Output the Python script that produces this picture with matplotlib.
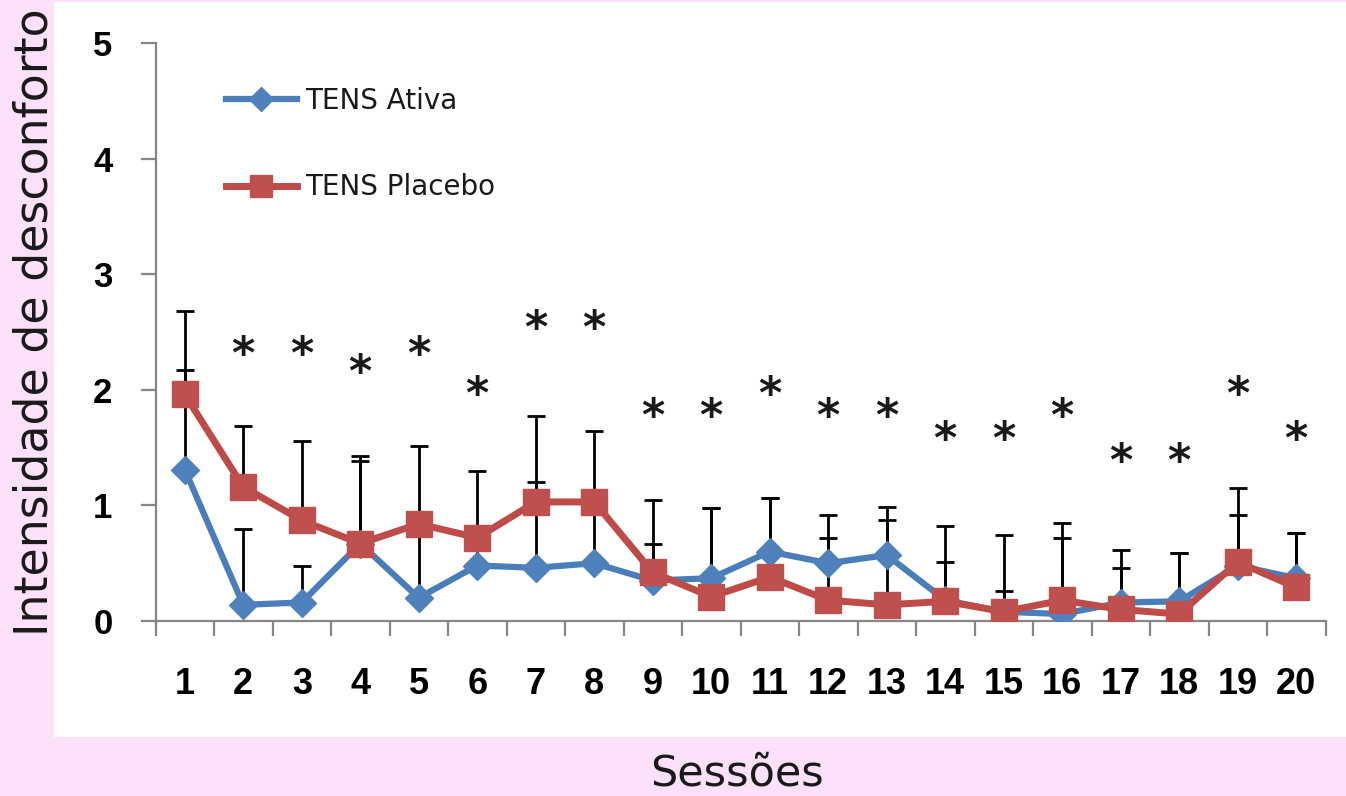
import numpy as np
import matplotlib
matplotlib.use("Agg")
import matplotlib.pyplot as plt
from matplotlib import font_manager as fm
from matplotlib.patches import Rectangle

# ---------------- data ----------------
sessions = list(range(1, 21))
session_labels = [str(s) for s in sessions]
ativa = [1.31, 0.14, 0.16, 0.67, 0.20, 0.48, 0.46, 0.50, 0.35, 0.37,
         0.60, 0.50, 0.57, 0.18, 0.08, 0.06, 0.16, 0.17, 0.48, 0.37]
placebo = [1.96, 1.16, 0.87, 0.67, 0.84, 0.72, 1.03, 1.03, 0.42, 0.21,
           0.38, 0.18, 0.14, 0.17, 0.08, 0.18, 0.10, 0.06, 0.51, 0.29]
err_ativa = [0.86, 0.66, 0.32, 0.71, 0.66, 0.26, 0.74, 0.55, 0.32, 0.61,
             0.46, 0.42, 0.42, 0.33, 0.18, 0.66, 0.30, 0.42, 0.44, 0.39]
err_placebo = [0.72, 0.53, 0.69, 0.76, 0.67, 0.58, 0.74, 0.61, 0.63, 0.77,
               0.68, 0.54, 0.73, 0.65, 0.66, 0.67, 0.51, 0.53, 0.64, 0.47]
star_sessions = list(range(2, 21))
star_heights = [2.37, 2.37, 2.21, 2.37, 2.02, 2.59, 2.59, 1.83, 1.83, 2.02,
                1.83, 1.83, 1.63, 1.63, 1.83, 1.44, 1.44, 2.02, 1.63]
y_ticks = [0, 1, 2, 3, 4, 5]
series_names = ["TENS Ativa", "TENS Placebo"]
y_title = "Intensidade de desconforto"
x_title = "Sessões"

# ---------------- fonts ----------------
def has_font(name):
    try:
        fm.findfont(fm.FontProperties(family=name), fallback_to_default=False)
        return True
    except Exception:
        return False

narrow = has_font("Liberation Sans Narrow")
tick_family = "Liberation Sans" if has_font("Liberation Sans") else "DejaVu Sans"
xtick_family = "Liberation Sans Narrow" if narrow else tick_family
xtick_size = 30 if narrow else 26

W, H = 1346, 796
fig = plt.figure(figsize=(W / 100, H / 100), dpi=100)
fig.patch.set_facecolor("#FDE0FA")
fig.add_artist(Rectangle((54 / W, 1 - 737 / H), 1 - 54 / W, (737 - 2) / H,
                         transform=fig.transFigure, facecolor="white",
                         edgecolor="none", zorder=-5))

ax = fig.add_axes([155.5 / W, 1 - 621 / H, (1325.5 - 155.5) / W, (621 - 43) / H])
ax.patch.set_visible(False)

blue_line, blue_mk = "#4A7EBB", "#4F81BD"
red_line, red_mk = "#BE4B48", "#C0504D"
gray = "#868686"

zeros = np.zeros(len(sessions))
ax.errorbar(sessions, ativa, yerr=[zeros, err_ativa], fmt="none", ecolor="black",
            elinewidth=2.0, capsize=6.5, capthick=2.0, zorder=2)
ax.errorbar(sessions, placebo, yerr=[zeros, err_placebo], fmt="none", ecolor="black",
            elinewidth=2.0, capsize=6.5, capthick=2.0, zorder=2.1)

ax.plot(sessions, ativa, color=blue_line, lw=4.5, marker="D", ms=14.5,
        mfc=blue_mk, mec=blue_mk, label=series_names[0], zorder=3)
ax.plot(sessions, placebo, color=red_line, lw=5, marker="s", ms=19,
        mfc=red_mk, mec=red_mk, label=series_names[1], zorder=4)

fs_star = 32
for s, h in zip(star_sessions, star_heights):
    ax.annotate("*", (s, h), xytext=(0, -0.47 * fs_star), textcoords="offset points",
                ha="center", va="baseline", fontsize=fs_star, color="#1a1a1a",
                family="DejaVu Sans", fontweight="bold", zorder=5)

ax.set_xlim(0.5, 20.5)
ax.set_ylim(0, 5)
for side in ("top", "right"):
    ax.spines[side].set_visible(False)
for side in ("left", "bottom"):
    ax.spines[side].set_color(gray)
    ax.spines[side].set_linewidth(1.6)

ax.set_xticks(np.arange(0.5, 20.6, 1))
ax.set_xticklabels([])
ax.set_xticks(sessions, minor=True)
ax.set_xticklabels(session_labels, minor=True, family=xtick_family,
                   fontweight="bold", fontsize=xtick_size)
ax.tick_params(axis="x", which="major", length=11, width=1.6, color=gray, direction="out")
ax.tick_params(axis="x", which="minor", length=0, pad=33)

ax.set_yticks(y_ticks)
ax.set_yticklabels([str(v) for v in y_ticks], family=tick_family,
                   fontweight="bold", fontsize=25)
ax.tick_params(axis="y", length=11, width=1.6, color=gray, direction="out", pad=20)

leg = ax.legend(loc="upper left", bbox_to_anchor=(226 / W, 1 - 87 / H),
                bbox_transform=fig.transFigure, frameon=False, fontsize=20,
                handlelength=2.55, handletextpad=0.3, labelspacing=2.1,
                borderpad=0, borderaxespad=0, markerscale=0.85)
for t in leg.get_texts():
    t.set_color("#1a1a1a")

fig.text(48 / W, 1 - 322.5 / H, y_title, rotation=90, rotation_mode="anchor",
         ha="center", va="baseline", fontsize=33, color="#1a1a1a")
fig.text(737 / W, 1 - 794 / H, x_title, ha="center", va="bottom",
         fontsize=31, color="#1a1a1a")

fig.savefig("out.png", dpi=100, facecolor=fig.get_facecolor())
